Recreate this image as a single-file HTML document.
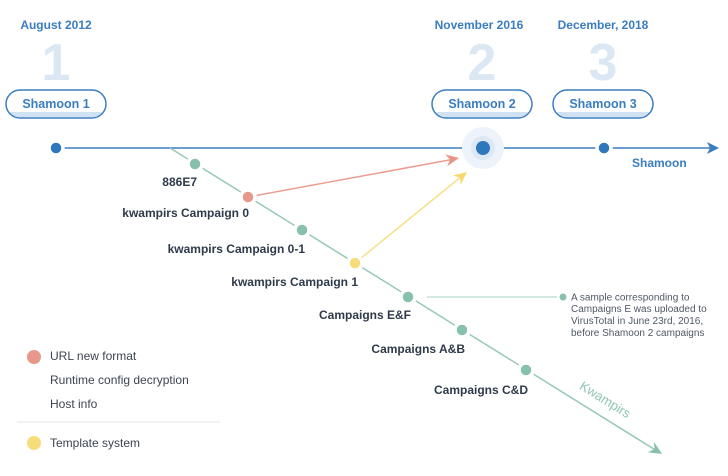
<!DOCTYPE html>
<html><head><meta charset="utf-8">
<style>
html,body{margin:0;padding:0;background:#fff;}
svg{display:block;}
text{font-family:"Liberation Sans",sans-serif;}
</style></head>
<body>
<svg width="728" height="476" viewBox="0 0 728 476" xmlns="http://www.w3.org/2000/svg">
<defs>
  <clipPath id="p1"><rect x="7" y="91" width="98" height="26" rx="13"/></clipPath>
  <clipPath id="p2"><rect x="433" y="91" width="98" height="26" rx="13"/></clipPath>
  <clipPath id="p3"><rect x="554" y="91" width="98" height="26" rx="13"/></clipPath>
</defs>

<!-- date labels -->
<g font-size="12" font-weight="bold" fill="#3a7dc0" text-anchor="middle">
  <text x="56" y="29">August 2012</text>
  <text x="479" y="29">November 2016</text>
  <text x="603" y="29">December, 2018</text>
</g>

<!-- big numbers -->
<g font-size="52" font-weight="bold" fill="#dbe8f4" text-anchor="middle">
  <text x="56" y="80">1</text>
  <text x="482" y="80">2</text>
  <text x="603" y="80">3</text>
</g>

<!-- pills -->
<g>
  <rect x="6" y="90" width="100" height="28" rx="14" fill="#fff"/>
  <rect x="0" y="112" width="120" height="8" fill="#cfe1f2" clip-path="url(#p1)"/>
  <rect x="6" y="90" width="100" height="28" rx="14" fill="none" stroke="#3a7dc0" stroke-width="1.5"/>
  <rect x="432" y="90" width="100" height="28" rx="14" fill="#fff"/>
  <rect x="420" y="112" width="120" height="8" fill="#cfe1f2" clip-path="url(#p2)"/>
  <rect x="432" y="90" width="100" height="28" rx="14" fill="none" stroke="#3a7dc0" stroke-width="1.5"/>
  <rect x="553" y="90" width="100" height="28" rx="14" fill="#fff"/>
  <rect x="540" y="112" width="120" height="8" fill="#cfe1f2" clip-path="url(#p3)"/>
  <rect x="553" y="90" width="100" height="28" rx="14" fill="none" stroke="#3a7dc0" stroke-width="1.5"/>
</g>
<g font-size="12.5" font-weight="bold" fill="#3a7dc0" text-anchor="middle">
  <text x="56" y="108">Shamoon 1</text>
  <text x="482" y="108">Shamoon 2</text>
  <text x="603" y="108">Shamoon 3</text>
</g>

<!-- main timeline -->
<line x1="56" y1="148" x2="712" y2="148" stroke="#3a7dc0" stroke-width="1.5"/>
<path d="M719,148 L707,142 L710,148 L707,154 Z" fill="#3a7dc0"/>

<!-- diagonal kwampirs line -->
<line x1="170" y1="148" x2="657" y2="451" stroke="#97c8b8" stroke-width="1.5"/>
<g transform="translate(662,454) rotate(31.9)">
  <path d="M0,0 L-13,-6 L-9,0 L-13,6 Z" fill="#88c0ae"/>
</g>

<!-- red arrow -->
<line x1="248" y1="197" x2="452" y2="159.5" stroke="#ec9d90" stroke-width="1.5"/>
<g transform="translate(459,158) rotate(-10)">
  <path d="M0,0 L-13,-6 L-9,0 L-13,6 Z" fill="#e89486"/>
</g>
<!-- yellow arrow -->
<line x1="355" y1="263" x2="462" y2="176" stroke="#f7df88" stroke-width="1.5"/>
<g transform="translate(467,172) rotate(-39)">
  <path d="M0,0 L-13,-6 L-9,0 L-13,6 Z" fill="#f5d970"/>
</g>

<!-- shamoon nodes -->
<circle cx="56" cy="148" r="7" fill="#2f77bd" stroke="#fff" stroke-width="3.5"/>
<circle cx="483" cy="148" r="21" fill="#edf3fa"/>
<circle cx="483" cy="148" r="12" fill="#dce8f4"/>
<circle cx="483" cy="148" r="7" fill="#2f77bd"/>
<circle cx="604" cy="148" r="7" fill="#2f77bd" stroke="#fff" stroke-width="3.5"/>

<!-- kwampirs nodes -->
<g stroke="#fff" stroke-width="3.5">
  <circle cx="195" cy="164" r="7" fill="#88c0ae"/>
  <circle cx="248" cy="197" r="7" fill="#e8988a"/>
  <circle cx="302" cy="230" r="7" fill="#88c0ae"/>
  <circle cx="355" cy="263" r="7" fill="#f7dc7c"/>
  <circle cx="408" cy="297" r="7" fill="#88c0ae"/>
  <circle cx="462" cy="330" r="7" fill="#88c0ae"/>
  <circle cx="526" cy="370" r="7" fill="#88c0ae"/>
</g>

<!-- node labels -->
<g font-size="12" font-weight="bold" fill="#2f3a4a" text-anchor="end">
  <text x="197" y="186">886E7</text>
  <text x="249" y="217">kwampirs Campaign 0</text>
  <text x="305" y="253">kwampirs Campaign 0-1</text>
  <text x="358" y="286">kwampirs Campaign 1</text>
  <text x="411" y="319">Campaigns E&amp;F</text>
  <text x="465" y="353">Campaigns A&amp;B</text>
  <text x="528" y="394">Campaigns C&amp;D</text>
</g>

<!-- shamoon label -->
<text x="632" y="167" font-size="12" font-weight="bold" fill="#3a7dc0">Shamoon</text>

<!-- kwampirs label -->
<g transform="translate(605,400) rotate(31.9)">
  <text x="0" y="4" font-size="13" fill="#8cc4b3" text-anchor="middle">Kwampirs</text>
</g>

<!-- note -->
<line x1="427" y1="297" x2="557" y2="297" stroke="#a9d2c4" stroke-width="1"/>
<circle cx="563" cy="297" r="3.5" fill="#88c0ae"/>
<g font-size="10" fill="#505866">
  <text x="571" y="300.5">A sample corresponding to</text>
  <text x="571" y="312">Campaigns E was uploaded to</text>
  <text x="571" y="324">VirusTotal in June 23rd, 2016,</text>
  <text x="571" y="336">before Shamoon 2 campaigns</text>
</g>

<!-- legend -->
<circle cx="34" cy="357" r="7" fill="#e8988a"/>
<circle cx="34" cy="443" r="7" fill="#f7dc7c"/>
<line x1="17" y1="422" x2="220" y2="422" stroke="#dfe7ee" stroke-width="1"/>
<g font-size="12" fill="#3c4452">
  <text x="50" y="360">URL new format</text>
  <text x="50" y="384">Runtime config decryption</text>
  <text x="50" y="408">Host info</text>
  <text x="50" y="447">Template system</text>
</g>
</svg>
</body></html>
